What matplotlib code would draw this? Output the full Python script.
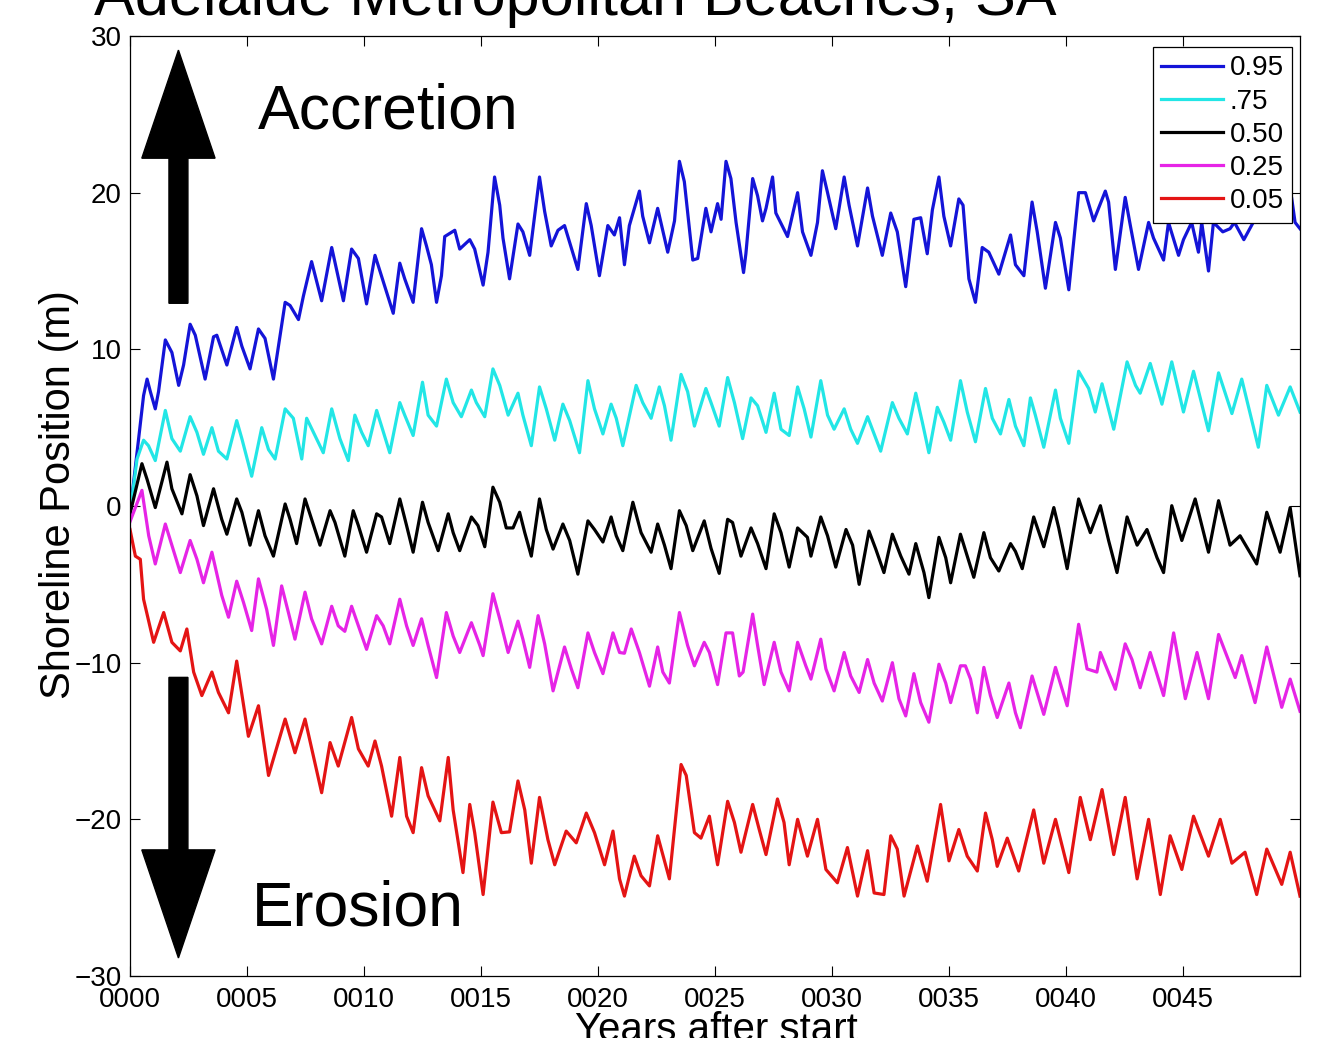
import matplotlib
matplotlib.use("Agg")
import matplotlib.pyplot as plt

# Shoreline position traces (years, metres)
p95_years = [0.0, 0.58, 0.73, 0.87, 1.08, 1.22, 1.51, 1.79, 2.08, 2.29, 2.57, 2.79, 3.21, 3.57, 3.71,
             4.14, 4.56, 4.78, 5.13, 5.49, 5.77, 6.13, 6.63, 6.84, 7.2, 7.41, 7.76, 8.19, 8.62, 9.12,
             9.47, 9.76, 10.11, 10.47, 10.68, 11.25, 11.53, 11.74, 12.1, 12.46, 12.67, 12.88, 13.1,
             13.31, 13.45, 13.88, 14.09, 14.52, 14.73, 15.09, 15.3, 15.58, 15.8, 15.94, 16.22, 16.58,
             16.79, 17.08, 17.5, 17.72, 18.0, 18.29, 18.57, 19.14, 19.5, 19.71, 20.06, 20.42, 20.7,
             20.92, 21.13, 21.34, 21.77, 21.91, 22.2, 22.55, 22.98, 23.27, 23.48, 23.69, 24.05, 24.26,
             24.61, 24.83, 25.11, 25.26, 25.47, 25.68, 25.9, 26.11, 26.22, 26.32, 26.61, 26.82, 27.03,
             27.18, 27.46, 27.6, 28.1, 28.53, 28.74, 29.1, 29.38, 29.59, 29.81, 30.16, 30.52, 30.73,
             31.09, 31.52, 31.73, 32.15, 32.51, 32.79, 33.15, 33.5, 33.79, 34.07, 34.29, 34.57, 34.78,
             35.07, 35.42, 35.6, 35.85, 36.13, 36.42, 36.7, 37.13, 37.63, 37.84, 38.2, 38.55, 38.77,
             39.12, 39.55, 39.76, 40.12, 40.54, 40.83, 41.18, 41.68, 41.82, 42.11, 42.53, 42.75, 43.1,
             43.53, 43.74, 44.17, 44.38, 44.81, 45.02, 45.37, 45.66, 45.8, 46.09, 46.3, 46.7, 47.01,
             47.2, 47.6, 48.0, 48.5, 49.0, 49.64, 49.79, 50.0]
p95_pos = [-0.5, 7.05, 8.1, 7.3, 6.2, 7.3, 10.6, 9.8, 7.7, 9.0, 11.6, 10.9, 8.1, 10.8, 10.9,
           9.0, 11.4, 10.2, 8.75, 11.3, 10.7, 8.1, 13.0, 12.8, 11.9, 13.4, 15.6, 13.1, 16.5, 13.1,
           16.4, 15.8, 12.9, 16.0, 15.0, 12.3, 15.5, 14.5, 13.0, 17.7, 16.6, 15.4, 13.0,
           14.7, 17.2, 17.6, 16.4, 17.0, 16.4, 14.1, 16.2, 21.0, 19.2, 17.1, 14.5, 18.0,
           17.5, 16.0, 21.0, 18.8, 16.6, 17.6, 17.9, 15.1, 19.3, 17.9, 14.7, 17.9, 17.3,
           18.4, 15.4, 17.9, 20.1, 18.5, 16.8, 19.0, 16.2, 18.2, 22.0, 20.7, 15.7, 15.8,
           19.0, 17.5, 19.3, 18.3, 22.0, 20.9, 18.1, 16.0, 14.9, 16.1, 20.9, 19.8, 18.2,
           19.0, 21.0, 18.7, 17.2, 20.0, 17.5, 16.0, 18.1, 21.4, 20.0, 17.7, 21.0, 19.2,
           16.6, 20.3, 18.5, 16.0, 18.7, 17.5, 14.0, 18.3, 18.4, 16.1, 18.9, 21.0, 18.5,
           16.6, 19.6, 19.2, 14.5, 13.0, 16.5, 16.2, 14.8, 17.3, 15.4, 14.7, 19.4, 17.5,
           13.9, 18.1, 17.1, 13.8, 20.0, 20.0, 18.2, 20.1, 19.4, 15.1, 19.7, 17.9, 15.1,
           18.1, 17.1, 15.7, 18.1, 16.0, 17.0, 18.1, 16.2, 18.1, 15.0, 18.1, 17.5, 17.7,
           18.1, 17.0, 18.1, 19.0, 18.5, 19.7, 18.1, 17.7]

p75_years = [0.0, 0.3, 0.58, 0.79, 1.08, 1.51, 1.79, 2.15, 2.57, 2.86, 3.14, 3.5, 3.78, 4.14, 4.56,
             4.78, 5.2, 5.63, 5.92, 6.2, 6.63, 6.98, 7.34, 7.55, 7.84, 8.26, 8.62, 8.97, 9.33, 9.61,
             9.9, 10.18, 10.54, 10.75, 11.1, 11.53, 11.74, 12.1, 12.5, 12.74, 13.1, 13.52, 13.81,
             14.16, 14.59, 14.8, 15.16, 15.51, 15.8, 16.16, 16.58, 16.79, 17.15, 17.5, 17.79, 18.15,
             18.5, 18.79, 19.21, 19.57, 19.85, 20.21, 20.56, 20.78, 21.06, 21.63, 21.91, 22.27, 22.62,
             22.84, 23.12, 23.55, 23.83, 24.12, 24.61, 24.83, 25.18, 25.54, 25.83, 26.18, 26.54, 26.82,
             27.18, 27.53, 27.82, 28.17, 28.53, 28.81, 29.1, 29.52, 29.81, 30.09, 30.52, 30.8, 31.09,
             31.52, 31.8, 32.08, 32.58, 32.86, 33.22, 33.58, 33.86, 34.14, 34.5, 34.78, 35.07, 35.49,
             35.78, 36.13, 36.56, 36.85, 37.2, 37.56, 37.84, 38.2, 38.48, 38.69, 39.05, 39.55, 39.76,
             40.12, 40.54, 40.97, 41.25, 41.54, 42.04, 42.61, 42.97, 43.17, 43.6, 44.1, 44.52, 45.02,
             45.45, 46.09, 46.52, 47.09, 47.51, 48.22, 48.58, 49.08, 49.58, 50.0]
p75_pos = [-0.5, 3.0, 4.2, 3.85, 2.9, 6.1, 4.3, 3.5, 5.7, 4.7, 3.3, 5.0, 3.5, 3.0, 5.45,
           4.3, 1.9, 5.0, 3.6, 3.0, 6.2, 5.6, 3.0, 5.6, 4.7, 3.4, 6.2, 4.3, 2.9, 5.8,
           4.7, 3.85, 6.1, 5.1, 3.4, 6.6, 5.8, 4.5, 7.9, 5.8, 5.1, 8.1, 6.6,
           5.7, 7.4, 6.6, 5.7, 8.75, 7.7, 5.8, 7.2, 5.8, 3.85, 7.6, 6.2, 4.2,
           6.5, 5.45, 3.4, 8.0, 6.2, 4.6, 6.5, 5.6, 3.85, 7.7, 6.6, 5.6, 7.6,
           6.4, 4.2, 8.4, 7.3, 5.1, 7.5, 6.6, 5.1, 8.2, 6.6, 4.3, 6.9, 6.4,
           4.7, 7.2, 4.9, 4.5, 7.6, 6.2, 4.4, 8.0, 5.8, 4.9, 6.2, 4.9, 4.0,
           5.7, 4.6, 3.5, 6.6, 5.6, 4.6, 7.2, 5.35, 3.4, 6.3, 5.35, 4.2, 8.0,
           6.0, 4.1, 7.5, 5.6, 4.6, 6.8, 5.1, 3.85, 6.9, 5.8, 3.75, 7.4, 5.6,
           4.0, 8.6, 7.5, 6.0, 7.8, 4.9, 9.2, 7.7, 7.2, 9.1, 6.5, 9.2, 6.0,
           8.6, 4.8, 8.5, 5.9, 8.1, 3.75, 7.7, 5.8, 7.6, 6.0]

p50_years = [0.0, 0.51, 0.73, 1.08, 1.58, 1.79, 2.22, 2.57, 2.86, 3.14, 3.57, 3.92, 4.14, 4.56, 4.78,
             5.13, 5.49, 5.77, 6.13, 6.63, 6.84, 7.12, 7.48, 7.76, 8.12, 8.55, 8.76, 9.18, 9.54, 9.76,
             10.11, 10.54, 10.75, 11.1, 11.53, 11.82, 12.1, 12.5, 12.74, 13.17, 13.6, 13.81, 14.09,
             14.59, 14.87, 15.16, 15.51, 15.8, 16.08, 16.37, 16.65, 16.87, 17.15, 17.5, 17.79, 18.08,
             18.5, 18.79, 19.14, 19.57, 19.85, 20.21, 20.56, 20.78, 21.06, 21.49, 21.84, 22.27, 22.55,
             22.84, 23.12, 23.48, 23.77, 24.05, 24.54, 24.83, 25.18, 25.54, 25.75, 26.11, 26.54, 26.82,
             27.18, 27.53, 27.82, 28.17, 28.53, 28.95, 29.1, 29.52, 29.81, 30.16, 30.6, 30.88, 31.16,
             31.58, 31.87, 32.22, 32.58, 32.94, 33.29, 33.58, 33.93, 34.14, 34.57, 34.86, 35.07, 35.49,
             35.78, 36.06, 36.49, 36.77, 37.13, 37.63, 37.84, 38.13, 38.62, 39.05, 39.48, 39.69, 40.05,
             40.54, 41.04, 41.47, 41.82, 42.18, 42.61, 43.04, 43.46, 43.89, 44.17, 44.52, 44.95, 45.52,
             46.09, 46.52, 47.01, 47.44, 48.15, 48.58, 49.15, 49.58, 50.0]
p50_pos = [-0.5, 2.7, 1.7, -0.1, 2.8, 1.1, -0.5, 2.0, 0.65, -1.25, 1.1, -0.85, -1.8, 0.45, -0.4,
           -2.5, -0.3, -1.9, -3.2, 0.13, -0.85, -2.4, 0.45, -0.85, -2.5, -0.3, -1.05, -3.2, -0.3, -1.25,
           -2.95, -0.5, -0.7, -2.4, 0.45, -1.25, -2.95, 0.24, -1.05, -2.85, -0.5, -1.7, -2.85,
           -0.7, -1.25, -2.6, 1.2, 0.24, -1.4, -1.4, -0.4, -1.7, -3.2, 0.45, -1.5, -2.75,
           -1.15, -2.2, -4.35, -0.95, -1.5, -2.3, -0.7, -1.9, -2.85, 0.24, -1.7, -2.95, -1.15,
           -2.5, -4.0, -0.3, -1.25, -2.85, -0.95, -2.7, -4.3, -0.85, -1.05, -3.2, -1.4, -2.4,
           -4.0, -0.5, -1.7, -3.9, -1.4, -2.0, -3.2, -0.7, -1.9, -3.9, -1.5, -2.5, -5.0,
           -1.6, -2.75, -4.25, -1.8, -3.2, -4.35, -2.4, -4.25, -5.85, -2.0, -3.3, -4.9, -1.8,
           -3.2, -4.55, -1.7, -3.3, -4.15, -2.4, -2.9, -4.0, -0.7, -2.6, -0.1, -1.4, -4.0,
           0.45, -1.7, 0.02, -2.2, -4.25, -0.7, -2.5, -1.5, -3.3, -4.25, 0.02, -2.2, 0.45,
           -2.95, 0.34, -2.5, -1.9, -3.7, -0.4, -2.95, -0.1, -4.45]

p25_years = [0.0, 0.51, 0.8, 1.08, 1.51, 1.79, 2.15, 2.57, 2.86, 3.14, 3.5, 3.92, 4.21, 4.56, 4.85,
             5.2, 5.49, 5.84, 6.13, 6.48, 6.77, 7.05, 7.48, 7.76, 8.19, 8.62, 8.9, 9.18, 9.47, 9.76,
             10.11, 10.54, 10.82, 11.1, 11.53, 11.82, 12.1, 12.46, 12.74, 13.1, 13.52, 13.81, 14.09,
             14.59, 14.95, 15.09, 15.51, 15.8, 16.16, 16.58, 16.79, 17.08, 17.44, 17.72, 18.08, 18.57,
             18.86, 19.14, 19.57, 19.85, 20.21, 20.64, 20.92, 21.13, 21.42, 21.77, 22.2, 22.55, 22.77,
             23.05, 23.48, 23.83, 24.12, 24.54, 24.76, 25.11, 25.47, 25.75, 26.04, 26.2, 26.61, 26.82,
             27.1, 27.53, 27.82, 28.17, 28.53, 28.88, 29.1, 29.52, 29.74, 30.09, 30.52, 30.8, 31.16,
             31.52, 31.8, 32.15, 32.58, 32.86, 33.15, 33.5, 33.79, 34.14, 34.57, 34.86, 35.07, 35.49,
             35.7, 35.92, 36.21, 36.49, 36.77, 37.06, 37.56, 37.84, 38.05, 38.55, 39.05, 39.55, 40.05,
             40.54, 40.9, 41.32, 41.47, 42.11, 42.53, 42.82, 43.17, 43.6, 44.17, 44.6, 45.1, 45.6,
             46.09, 46.52, 47.23, 47.51, 48.08, 48.58, 49.22, 49.58, 50.0]
p25_pos = [-1.0, 1.0, -1.9, -3.7, -1.15, -2.5, -4.25, -2.2, -3.4, -4.9, -2.95, -5.7, -7.1, -4.8, -6.15,
           -7.95, -4.65, -6.6, -8.9, -5.1, -6.8, -8.5, -5.5, -7.2, -8.8, -6.4, -7.65, -8.0, -6.4, -7.65,
           -9.15, -7.0, -7.65, -8.8, -5.95, -7.65, -8.9, -7.2, -8.9, -10.95, -6.8, -8.3, -9.35,
           -7.45, -8.9, -9.55, -5.6, -7.2, -9.35, -7.35, -8.5, -10.3, -7.0, -8.8, -11.8, -9.0,
           -10.4, -11.6, -8.1, -9.35, -10.7, -8.1, -9.35, -9.4, -7.85, -9.35, -11.5, -9.0, -10.6,
           -11.3, -6.8, -8.9, -10.2, -8.7, -9.35, -11.4, -8.1, -8.1, -10.85, -10.6, -6.9, -8.9,
           -11.4, -8.7, -10.6, -11.8, -8.7, -10.2, -11.05, -8.5, -10.4, -11.8, -9.35, -10.85, -11.9,
           -9.8, -11.3, -12.45, -10.0, -12.3, -13.4, -10.7, -12.55, -13.8, -10.1, -11.3, -12.55, -10.2,
           -10.2, -11.05, -13.2, -10.3, -12.1, -13.5, -11.3, -13.2, -14.15, -10.85, -13.3, -10.3, -12.75,
           -7.55, -10.4, -10.6, -9.35, -11.7, -8.8, -9.8, -11.6, -9.35, -12.1, -8.1, -12.3, -9.35,
           -12.3, -8.2, -10.95, -9.55, -12.55, -9.0, -12.85, -11.05, -13.1]

p05_years = [0.0, 0.23, 0.44, 0.58, 1.01, 1.44, 1.79, 2.15, 2.43, 2.72, 3.07, 3.5, 3.78, 4.21, 4.56,
             5.06, 5.49, 5.92, 6.63, 7.05, 7.48, 8.19, 8.55, 8.9, 9.47, 9.76, 10.18, 10.47, 10.75,
             11.18, 11.53, 11.82, 12.1, 12.46, 12.74, 13.24, 13.6, 13.81, 14.23, 14.52, 14.73, 15.09,
             15.51, 15.87, 16.22, 16.58, 16.87, 17.15, 17.5, 17.86, 18.15, 18.64, 19.07, 19.5, 19.85,
             20.28, 20.64, 20.92, 21.13, 21.55, 21.84, 22.2, 22.55, 23.05, 23.55, 23.77, 24.12, 24.4,
             24.76, 25.11, 25.54, 25.83, 26.11, 26.61, 26.89, 27.18, 27.67, 27.95, 28.17, 28.53, 28.95,
             29.38, 29.74, 30.23, 30.66, 31.09, 31.52, 31.8, 32.22, 32.51, 32.79, 33.08, 33.65, 34.07,
             34.64, 35.0, 35.42, 35.78, 36.21, 36.56, 36.85, 37.06, 37.49, 37.98, 38.62, 39.05, 39.55,
             40.12, 40.61, 41.04, 41.54, 42.04, 42.53, 43.04, 43.53, 44.03, 44.45, 44.95, 45.45, 46.09,
             46.59, 47.09, 47.65, 48.15, 48.58, 49.22, 49.58, 50.0]
p05_pos = [-1.5, -3.2, -3.4, -5.95, -8.7, -6.8, -8.7, -9.25, -7.85, -10.6, -12.1, -10.6, -11.9, -13.2, -9.9,
           -14.7, -12.75, -17.2, -13.6, -15.75, -13.6, -18.3, -15.1, -16.6, -13.5, -15.5, -16.6, -15.0, -16.6,
           -19.8, -16.05, -19.8, -20.85, -16.7, -18.5, -20.1, -16.05, -19.4, -23.4, -19.05, -20.85, -24.8,
           -18.9, -20.85, -20.8, -17.55, -19.4, -22.8, -18.6, -21.3, -22.9, -20.75, -21.5, -19.6, -20.85,
           -22.9, -20.75, -23.8, -24.9, -22.35, -23.6, -24.25, -21.05, -23.8, -16.5, -17.2, -20.85, -21.2,
           -19.8, -22.9, -18.85, -20.2, -22.1, -19.05, -20.65, -22.25, -18.7, -20.2, -22.9, -20.0, -22.35,
           -20.0, -23.2, -24.05, -21.8, -24.9, -22.0, -24.7, -24.8, -21.05, -21.9, -24.9, -21.7, -23.95,
           -19.05, -22.65, -20.65, -22.35, -23.3, -19.6, -21.3, -23.0, -21.2, -23.3, -19.4, -22.8, -20.0,
           -23.4, -18.6, -21.3, -18.1, -22.25, -18.6, -23.8, -20.0, -24.8, -21.05, -23.2, -19.8, -22.35,
           -20.0, -22.8, -22.1, -24.8, -21.9, -24.15, -22.1, -24.9]

series_labels = ['0.95', '.75', '0.50', '0.25', '0.05']
series_colors = ['#1414d8', '#22e6e6', 'k', '#e624e6', '#e41414']

xtick_vals = [0, 5, 10, 15, 20, 25, 30, 35, 40, 45]
xtick_labels = ['%04d' % v for v in xtick_vals]
ytick_vals = [-30, -20, -10, 0, 10, 20, 30]

plt.rcParams['font.family'] = ['Liberation Sans', 'DejaVu Sans']

fig = plt.figure(figsize=(13.23, 10.38), dpi=100)
ax = fig.add_axes([130 / 1323, 62 / 1038, 1170 / 1323, 940 / 1038])

traces = [(p95_years, p95_pos), (p75_years, p75_pos), (p50_years, p50_pos),
          (p25_years, p25_pos), (p05_years, p05_pos)]
for (yrs, pos), lab, col in zip(traces, series_labels, series_colors):
    ax.plot(yrs, pos, color=col, lw=2.3, label=lab)

ax.set_xlim(0, 50)
ax.set_ylim(-30, 30)
ax.set_xticks(xtick_vals)
ax.set_xticklabels(xtick_labels, fontsize=20)
ax.set_yticks(ytick_vals)
ax.set_yticklabels([str(v).replace('-', '\u2212') for v in ytick_vals], fontsize=20)
ax.tick_params(direction='in', length=7, width=0.8, top=True, right=True)
ax.tick_params(axis='x', pad=8)
ax.tick_params(axis='y', pad=6)
for s in ax.spines.values():
    s.set_linewidth(0.9)

ax.set_xlabel('Years after start', fontsize=29, va='top')
ax.xaxis.set_label_coords(0.501, -0.037)
ax.set_ylabel('Shoreline Position (m)', fontsize=30)
ax.yaxis.set_label_coords(-0.044, 0.512)

# big accretion / erosion arrows
ax.arrow(2.07, 12.94, 0, 29.1 - 12.94, width=0.81, head_width=3.13, head_length=6.9,
         length_includes_head=True, color='k', zorder=3)
ax.arrow(2.07, -10.94, 0, -28.85 + 10.94, width=0.81, head_width=3.13, head_length=6.9,
         length_includes_head=True, color='k', zorder=3)
ax.text(5.47, 24.1, 'Accretion', fontsize=45, va='baseline', ha='left')
ax.text(5.21, -26.8, 'Erosion', fontsize=45, va='baseline', ha='left')

leg = ax.legend(loc='upper right', bbox_to_anchor=(1 - 8 / 1170, 1 - 11 / 940), borderaxespad=0,
                fontsize=20, handlelength=2.2, handletextpad=0.25, labelspacing=0.26,
                borderpad=0.3, fancybox=False, framealpha=1, edgecolor='k')
leg.get_frame().set_linewidth(0.9)

# title, mostly cut off by the top of the image
fig.text(94 / 1323, 1 - 15 / 1038, 'Adelaide Metropolitan Beaches, SA', fontsize=44,
         ha='left', va='baseline')

fig.savefig('out.png', dpi=100)
